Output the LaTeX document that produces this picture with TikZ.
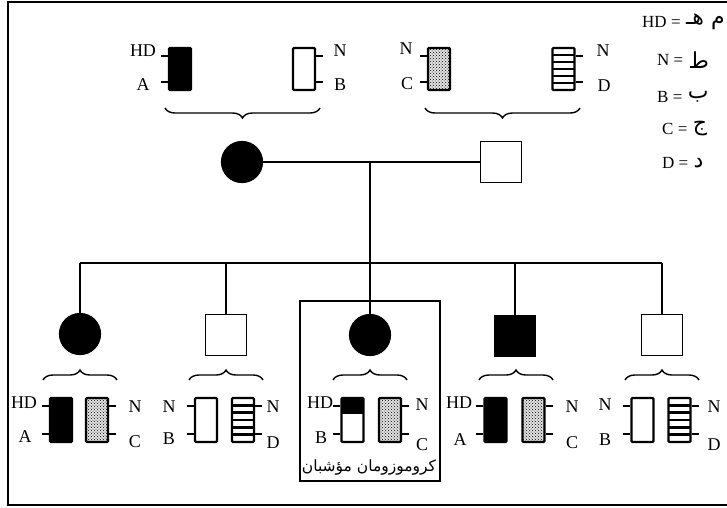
\documentclass[tikz,border=0pt]{standalone}
\usepackage{fontspec}
\setmainfont{Liberation Serif}
\newfontfamily\arabicfont[Script=Arabic]{DejaVu Sans}
\TeXXeTstate=1
\usetikzlibrary{patterns,decorations.pathreplacing,calc}
\newcommand\tickL[1]{\draw[tk] ($(#1.north west)+(0,9)$) -- ++(-7,0); \draw[tk] ($(#1.south west)+(0,-9)$) -- ++(-7,0);}
\newcommand\tickR[1]{\draw[tk] ($(#1.north east)+(0,9)$) -- ++(7,0); \draw[tk] ($(#1.south east)+(0,-9)$) -- ++(7,0);}
\begin{document}
\begin{tikzpicture}[x=1pt,y=-1pt,
  ped/.style={line width=1.8pt},
  fem/.style={circle, draw, fill=black, minimum size=41pt, inner sep=0pt, line width=1.2pt},
  mal/.style={rectangle, draw, fill=white, minimum size=41pt, inner sep=0pt, line width=1.8pt},
  chr/.style={rectangle, draw, line width=2.2pt, minimum width=22pt, minimum height=42pt, inner sep=0pt, rounded corners=1pt},
  chrb/.style={chr, minimum height=44pt},
  chblack/.style={fill=black},
  chwhite/.style={fill=white},
  chdots/.style={fill=gray!22, postaction={pattern=crosshatch dots}},
  chstripe/.style={fill=white, path picture={\foreach \i in {1,...,5}{\draw[line width=2.4pt] ($(path picture bounding box.north west)!\i/6!(path picture bounding box.south west)$) -- ($(path picture bounding box.north east)!\i/6!(path picture bounding box.south east)$);}}},
  chhalf/.style={fill=white, path picture={\fill[black] ($(path picture bounding box.north west)!0.36!(path picture bounding box.south west)$) rectangle (path picture bounding box.north east);}},
  tk/.style={line width=1.4pt},
  lab/.style={inner sep=0pt, font=\fontsize{18}{20}\selectfont},
  leg/.style={inner sep=0pt, anchor=west, font=\fontsize{17}{19}\selectfont},
  legar/.style={inner sep=0pt, anchor=west, xshift=5pt, font=\arabicfont\fontsize{22}{24}\selectfont},
  brc/.style={decorate, decoration={brace, amplitude=10pt}, line width=1.4pt},
  brcd/.style={decorate, decoration={brace, mirror, amplitude=10pt}, line width=1.4pt}
]
\useasboundingbox (0,0) rectangle (727,507);
\clip (0,0) rectangle (727,507);
% outer frame
\draw[line width=2pt] (740,2) -- (8,2) -- (8,505) -- (740,505);

% parents' chromosomes
\node[chr, chblack] (m1) at (180,69) {};
\node[chr, chwhite] (m2) at (304,69) {};
\node[chr, chdots] (f1) at (439,69) {};
\node[chr, chstripe] (f2) at (563.5,69) {};
\tickL{m1} \tickR{m2} \tickL{f1} \tickR{f2}
\node[lab] (lm1a) at (143,51) {HD};
\node[lab] (lm1b) at (143,85) {A};
\node[lab] (lm2a) at (340,51) {N};
\node[lab] (lm2b) at (340,85) {B};
\node[lab] (lf1a) at (406,49) {N};
\node[lab] (lf1b) at (407,84) {C};
\node[lab] (lf2a) at (603,51) {N};
\node[lab] (lf2b) at (604,86) {D};
\coordinate (bm1) at (165,108); \coordinate (bm2) at (320,108);
\coordinate (bf1) at (425,108); \coordinate (bf2) at (580,108);
\draw[brcd] (bm1) -- (bm2);
\draw[brcd] (bf1) -- (bf2);

% legend
\node[leg] (g1) at (642,22) {HD =};
\node[legar] (g1a) at (g1.east) {\beginR م هـ\endR};
\node[leg] (g2) at (657,60) {N =};
\node[legar] (g2a) at (g2.east) {\beginR ط\endR};
\node[leg] (g3) at (657,97) {B =};
\node[legar] (g3a) at (g3.east) {\beginR ب\endR};
\node[leg] (g4) at (662,129) {C =};
\node[legar] (g4a) at (g4.east) {\beginR ج\endR};
\node[leg] (g5) at (662,163) {D =};
\node[legar] (g5a) at (g5.east) {\beginR د\endR};

% parents
\node[fem] (mom) at (242,162) {};
\node[mal] (dad) at (501,162) {};
\coordinate (mar) at (370,162);
\coordinate (sib) at (370,263);
\coordinate (sL) at (80,263);
\coordinate (sR) at (662,263);
\draw[ped] (mom) -- (dad);
\draw[ped] (mar) -- (sib);
\draw[ped] (sL) -- (sR);

% box
\draw[line width=1.5pt] (300,301) rectangle (440,481);

% children
\node[fem] (k1) at (80,334) {};
\node[mal] (k2) at (226,335) {};
\node[fem] (k3) at (370,335) {};
\node[mal, fill=black] (k4) at (515,336) {};
\node[mal] (k5) at (662,335) {};
\foreach \k in {k1,k2,k3,k4,k5}{\draw[ped] (\k.north) -- (\k.north |- sib);}

% children braces
\foreach \c [count=\j] in {80,226,370,516,662}{
  \coordinate (cb\j a) at (\c-37,380); \coordinate (cb\j b) at (\c+37,380);
  \draw[brc] (cb\j a) -- (cb\j b);
}

% children chromosomes
\node[chrb, chblack] (c1a) at (61,420) {};
\node[chrb, chdots] (c1b) at (97,420) {};
\node[chrb, chwhite] (c2a) at (206,420) {};
\node[chrb, chstripe] (c2b) at (243,420) {};
\node[chrb, chhalf] (c3a) at (352.5,420) {};
\node[chrb, chdots] (c3b) at (390,420) {};
\node[chrb, chblack] (c4a) at (495.5,420) {};
\node[chrb, chdots] (c4b) at (533.5,420) {};
\node[chrb, chwhite] (c5a) at (642.5,420) {};
\node[chrb, chstripe] (c5b) at (679.5,420) {};
\tickL{c1a} \tickR{c1b} \tickL{c2a} \tickR{c2b} \tickL{c3a} \tickR{c3b}
\tickL{c4a} \tickR{c4b} \tickL{c5a} \tickR{c5b}

\node[lab] (l1a) at (24,403) {HD};
\node[lab] (l1b) at (25,437) {A};
\node[lab] (l1c) at (135,407) {N};
\node[lab] (l1d) at (135,442) {C};
\node[lab] (l2a) at (169,407) {N};
\node[lab] (l2b) at (169,439) {B};
\node[lab] (l2c) at (273,407) {N};
\node[lab] (l2d) at (273,443) {D};
\node[lab] (l3a) at (320,403) {HD};
\node[lab] (l3b) at (321,438) {B};
\node[lab] (l3c) at (422,405) {N};
\node[lab] (l3d) at (422,445) {C};
\node[lab] (l4a) at (459,403) {HD};
\node[lab] (l4b) at (460,440) {A};
\node[lab] (l4c) at (572,407) {N};
\node[lab] (l4d) at (572,443) {C};
\node[lab] (l5a) at (605,405) {N};
\node[lab] (l5b) at (605,440) {B};
\node[lab] (l5c) at (714,407) {N};
\node[lab] (l5d) at (714,445) {D};

\node[inner sep=0pt, font=\arabicfont\fontsize{15.5}{17}\selectfont] (boxlab) at (369,467) {\beginR كروموزومان مؤشبان\endR};
\end{tikzpicture}
\end{document}
